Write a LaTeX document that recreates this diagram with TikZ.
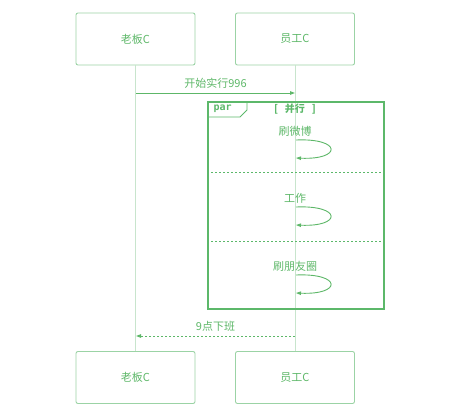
\documentclass[tikz,border=0pt]{standalone}
\usepackage{fontspec}
\setmainfont{Noto Sans CJK SC}
\newfontfamily\parfont{DejaVu Sans Mono}
\usetikzlibrary{arrows.meta}
\definecolor{boxline}{HTML}{9BD3A5}
\definecolor{msgtext}{HTML}{5DB768}
\definecolor{frameline}{HTML}{5CB86A}
\definecolor{lifeline}{HTML}{C8E5CD}
\begin{document}
\begin{tikzpicture}[x=1pt,y=-1pt,
  actor node/.style={draw=boxline,rounded corners=2pt,minimum width=119pt,minimum height=52pt,
    text=msgtext,font=\fontsize{11}{13}\selectfont,line width=0.9pt},
  msg/.style={draw=msgtext,line width=0.9pt,-{Triangle[length=5pt,width=3.5pt]}},
  msg label/.style={text=msgtext,font=\fontsize{11}{13}\selectfont},
  sep/.style={draw=frameline,dashed,dash pattern=on 2pt off 2pt,line width=1pt}]

  \useasboundingbox (0,0) rectangle (474,415);

  \node[actor node] (bossT) at (135.5,39) {老板C};
  \node[actor node] (empT) at (295,39) {员工C};
  \node[actor node] (bossB) at (135.5,377.5) {老板C};
  \node[actor node] (empB) at (295,377.5) {员工C};

  % lifelines
  \draw[lifeline,line width=1pt] (bossT) -- (bossB);
  \draw[lifeline,line width=1pt] (empT) -- (empB);

  % start message
  \coordinate (m1s) at (136,93);
  \coordinate (m1e) at (295,93);
  \draw[msg] (m1s) -- node[msg label,above=0.5pt]{开始实行996} (m1e);

  % par frame
  \node[draw=frameline,line width=1.6pt,minimum width=176pt,minimum height=207pt,anchor=north west]
    (frame) at (207,101) {};
  \draw[frameline,line width=0.9pt] (207,117) -- (240,117) -- (247,110) -- (247,101);
  \node[anchor=west,text=frameline,font=\parfont\bfseries\fontsize{10}{12}\selectfont] (parlbl) at (210,109) {par};
  \node[text=frameline,font=\bfseries\fontsize{10}{12}\selectfont] (guard) at (295,109.5) {[\ \ \ 并行\ \ \ ]};
  \coordinate (s1) at (207,172);
  \coordinate (s2) at (207,241);
  \draw[sep] (s1) -- (s1 -| frame.east);
  \draw[sep] (s2) -- (s2 -| frame.east);

  % self messages
  \foreach \y/\txt in {140/刷微博,207/工作,275/刷朋友圈}{
    \coordinate (a\y) at (296,\y);
    \coordinate (b\y) at (296,\y+18);
    \node[msg label] at (295,\y-9) {\txt};
    \draw[msg] (a\y) .. controls (342,\y-2) and (342,\y+20) .. (b\y);
  }

  % return message
  \coordinate (m2s) at (295,336);
  \coordinate (m2e) at (136,336);
  \draw[msg,dash pattern=on 2pt off 2pt] (m2s) -- node[msg label,above=0.5pt]{9点下班} (m2e);
\end{tikzpicture}
\end{document}
